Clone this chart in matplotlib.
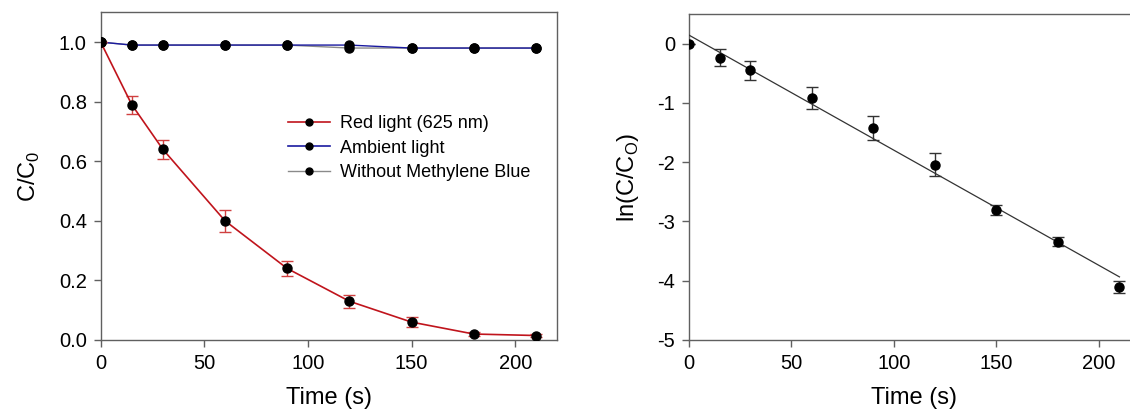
import numpy as np
import matplotlib
matplotlib.use("Agg")
import matplotlib.pyplot as plt
from matplotlib.lines import Line2D

plt.rcParams['font.family'] = ['Liberation Sans', 'DejaVu Sans']
plt.rcParams['mathtext.fontset'] = 'custom'
plt.rcParams['mathtext.rm'] = 'Liberation Sans'
plt.rcParams['axes.unicode_minus'] = False

# Irradiation time (s)
time_s = [0, 15, 30, 60, 90, 120, 150, 180, 210]

# Relative concentration C/C0
red_light = [1.0, 0.79, 0.64, 0.40, 0.24, 0.13, 0.06, 0.02, 0.015]
red_light_err = [0.0, 0.030, 0.033, 0.038, 0.025, 0.022, 0.018, 0.006, 0.005]
ambient_light = [1.0, 0.99, 0.99, 0.99, 0.99, 0.99, 0.98, 0.98, 0.98]
without_mb = [1.0, 0.99, 0.99, 0.99, 0.99, 0.98, 0.98, 0.98, 0.98]

# ln(C/C0) for the red-light run
ln_ratio = [0.0, -0.236, -0.45, -0.92, -1.42, -2.04, -2.80, -3.34, -4.11]
ln_ratio_err = [0.0, 0.14, 0.16, 0.19, 0.20, 0.19, 0.085, 0.08, 0.10]

spine_col = '#606060'
red_col = '#c0141c'
blue_col = '#1a1aa0'
gray_col = '#8a8a8a'

fig = plt.figure(figsize=(11.3, 4.17), dpi=100)
ax1 = fig.add_axes([0.0891, 0.1847, 0.4035, 0.7858])
ax2 = fig.add_axes([0.6097, 0.1847, 0.3991, 0.7818])

for ax in (ax1, ax2):
    for s in ax.spines.values():
        s.set_color(spine_col)
        s.set_linewidth(1.0)
    ax.tick_params(direction='out', length=5, width=1, color=spine_col,
                   labelsize=14.5, pad=5)

# Left panel: degradation curves
ax1.plot(time_s, without_mb, color=gray_col, lw=1.0, marker='o', ms=6.5,
         mfc='black', mec='black', zorder=3)
ax1.plot(time_s, ambient_light, color=blue_col, lw=1.0, marker='o', ms=6.5,
         mfc='black', mec='black', zorder=4)
ax1.errorbar(time_s, red_light, yerr=red_light_err, color=red_col, lw=1.2,
             ecolor='#d04040', elinewidth=1.0, capsize=4, capthick=1.0,
             marker='o', ms=6.5, mfc='black', mec='black', zorder=5)
ax1.set_xlim(0, 220)
ax1.set_ylim(0, 1.1)
ax1.set_xticks([0, 50, 100, 150, 200])
ax1.set_yticks([0.0, 0.2, 0.4, 0.6, 0.8, 1.0])
ax1.set_yticklabels(['0.0', '0.2', '0.4', '0.6', '0.8', '1.0'])
ax1.set_xlabel('Time (s)', fontsize=17, labelpad=10)
ax1.set_ylabel(r'C/C$_\mathregular{0}$', fontsize=17, labelpad=12)

legend_handles = [
    Line2D([], [], color=red_col, lw=1.2, marker='o', ms=5, mfc='black', mec='black'),
    Line2D([], [], color=blue_col, lw=1.2, marker='o', ms=5, mfc='black', mec='black'),
    Line2D([], [], color=gray_col, lw=1.0, marker='o', ms=5, mfc='black', mec='black'),
]
legend_labels = ['Red light (625 nm)', 'Ambient light', 'Without Methylene Blue']
ax1.legend(legend_handles, legend_labels, loc='upper left',
           bbox_to_anchor=(0.394, 0.708), frameon=False, fontsize=13,
           handlelength=2.35, handletextpad=0.55, labelspacing=0.42,
           borderaxespad=0, numpoints=1)

# Right panel: pseudo-first-order kinetics with linear fit
ax2.errorbar(time_s, ln_ratio, yerr=ln_ratio_err, fmt='o', color='black',
             ms=6.5, ecolor='#333333', elinewidth=1.0, capsize=4, capthick=1.0,
             zorder=4)
slope, intercept = np.polyfit(time_s, ln_ratio, 1)
fit_x = np.array([time_s[0], time_s[-1]])
ax2.plot(fit_x, slope * fit_x + intercept, color='#333333', lw=0.9, zorder=3)
ax2.set_xlim(0, 220)
ax2.set_ylim(-5, 0.5)
ax2.set_xticks([0, 50, 100, 150, 200])
ax2.set_yticks([0, -1, -2, -3, -4, -5])
ax2.set_xlabel('Time (s)', fontsize=17, labelpad=10)
ax2.set_ylabel(r'ln(C/C$_\mathregular{O}$)', fontsize=17, labelpad=12)

fig.savefig('out.png', dpi=100)
